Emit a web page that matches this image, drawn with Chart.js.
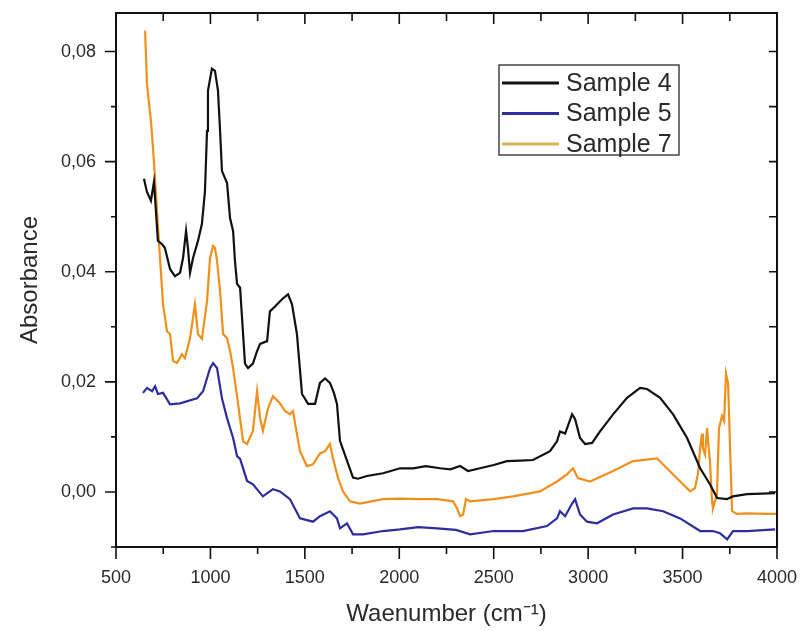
<!DOCTYPE html>
<html>
<head>
<meta charset="utf-8">
<script src="https://cdn.jsdelivr.net/npm/chart.js@4.4.0/dist/chart.umd.min.js"></script>
<style>
    html, body { margin: 0; padding: 0; background: #ffffff; }
    #spectrum { display: block; }
</style>
</head>
<body>
<canvas id="spectrum" width="800" height="631"></canvas>
<script>
// FTIR spectra (wavenumber in cm-1, absorbance)
const seriesNames = ['Sample 4', 'Sample 5', 'Sample 7'];

const sample4Wn = [648, 664, 685, 701, 722, 744, 759, 786, 812, 839, 855, 871, 881, 892, 908, 934, 955, 971, 982, 987,
    1008, 1024, 1040, 1051, 1061, 1088, 1104, 1120, 1130, 1141, 1157, 1183, 1199, 1225, 1247, 1263, 1300, 1315, 1342, 1379,
    1411, 1432, 1458, 1485, 1517, 1554, 1580, 1607, 1633, 1654, 1670, 1686, 1723, 1755, 1781, 1829, 1914, 2004, 2073, 2140,
    2216, 2270, 2322, 2364, 2427, 2500, 2570, 2640, 2708, 2798, 2835, 2851, 2878, 2915, 2931, 2957, 2984, 3021, 3063, 3132,
    3206, 3275, 3312, 3381, 3450, 3524, 3593, 3645, 3683, 3736, 3767, 3841, 3920, 3990];
const sample4Abs = [0.0569, 0.0545, 0.0529, 0.0563, 0.0456, 0.0450, 0.0443, 0.0405, 0.0392, 0.0398, 0.0425, 0.0474, 0.0443, 0.0398, 0.0425, 0.0456, 0.0487, 0.0546, 0.0656, 0.0729,
    0.0769, 0.0765, 0.0729, 0.0656, 0.0583, 0.0561, 0.0497, 0.0474, 0.0419, 0.0378, 0.0371, 0.0233, 0.0225, 0.0233, 0.0256, 0.0269, 0.0274, 0.0328, 0.0337, 0.0350,
    0.0359, 0.0341, 0.0287, 0.0178, 0.0160, 0.0160, 0.0198, 0.0206, 0.0198, 0.0180, 0.0160, 0.0093, 0.0057, 0.0026, 0.0024, 0.0029, 0.0034, 0.0043, 0.0043, 0.0047,
    0.0043, 0.0041, 0.0047, 0.0038, 0.0043, 0.0049, 0.0056, 0.0057, 0.0058, 0.0074, 0.0092, 0.0110, 0.0106, 0.0141, 0.0132, 0.0098, 0.0087, 0.0089, 0.0110, 0.0141,
    0.0171, 0.0189, 0.0187, 0.0171, 0.0141, 0.0098, 0.0043, 0.0014, -0.0011, -0.0013, -0.0008, -0.0004, -0.0003, -0.0002];

const sample5Wn = [643, 664, 691, 707, 722, 749, 786, 839, 929, 961, 998, 1014, 1035, 1061, 1088, 1120, 1141, 1157, 1194, 1225,
    1278, 1331, 1368, 1421, 1474, 1543, 1580, 1633, 1670, 1686, 1723, 1755, 1808, 1914, 2004, 2100, 2200, 2300, 2375, 2500,
    2655, 2782, 2835, 2851, 2878, 2915, 2931, 2957, 2994, 3047, 3132, 3238, 3312, 3397, 3487, 3593, 3661, 3698, 3736, 3767,
    3841, 3990];
const sample5Abs = [0.0180, 0.0189, 0.0183, 0.0192, 0.0178, 0.0180, 0.0159, 0.0161, 0.0170, 0.0183, 0.0225, 0.0234, 0.0225, 0.0170, 0.0134, 0.0098, 0.0065, 0.0060, 0.0020, 0.0014,
    -0.0008, 0.0005, 0.0001, -0.0013, -0.0048, -0.0054, -0.0044, -0.0035, -0.0048, -0.0066, -0.0057, -0.0077, -0.0077, -0.0071, -0.0068, -0.0064, -0.0066, -0.0069, -0.0077, -0.0071,
    -0.0071, -0.0062, -0.0048, -0.0035, -0.0044, -0.0021, -0.0013, -0.0041, -0.0054, -0.0057, -0.0041, -0.0030, -0.0030, -0.0035, -0.0048, -0.0071, -0.0071, -0.0075, -0.0086, -0.0071,
    -0.0071, -0.0068];

const sample7Wn = [654, 664, 669, 685, 701, 717, 733, 749, 770, 786, 802, 823, 849, 865, 892, 918, 934, 955, 982, 998,
    1014, 1024, 1035, 1051, 1067, 1088, 1104, 1120, 1146, 1173, 1194, 1225, 1247, 1263, 1278, 1305, 1331, 1368, 1395, 1421,
    1437, 1474, 1511, 1543, 1580, 1607, 1633, 1649, 1676, 1702, 1739, 1792, 1914, 2004, 2100, 2200, 2285, 2306, 2322, 2338,
    2353, 2375, 2500, 2602, 2745, 2835, 2888, 2920, 2946, 3010, 3132, 3238, 3365, 3397, 3487, 3540, 3566, 3582, 3593, 3603,
    3608, 3619, 3630, 3635, 3645, 3656, 3661, 3682, 3693, 3709, 3720, 3730, 3741, 3746, 3762, 3788, 3841, 3947, 4000];
const sample7Abs = [0.0838, 0.0743, 0.0725, 0.0674, 0.0601, 0.0510, 0.0425, 0.0341, 0.0292, 0.0287, 0.0238, 0.0234, 0.0250, 0.0243, 0.0279, 0.0341, 0.0287, 0.0278, 0.0347, 0.0425,
    0.0447, 0.0443, 0.0420, 0.0365, 0.0287, 0.0279, 0.0256, 0.0225, 0.0161, 0.0092, 0.0087, 0.0111, 0.0183, 0.0134, 0.0111, 0.0152, 0.0174, 0.0161, 0.0147, 0.0141,
    0.0147, 0.0074, 0.0047, 0.0050, 0.0070, 0.0074, 0.0087, 0.0061, 0.0025, 0.0001, -0.0017, -0.0021, -0.0013, -0.0012, -0.0013, -0.0013, -0.0017, -0.0030, -0.0044, -0.0041,
    -0.0013, -0.0017, -0.0013, -0.0008, 0.0001, 0.0019, 0.0032, 0.0043, 0.0025, 0.0019, 0.0038, 0.0056, 0.0061, 0.0050, 0.0019, 0.0001, 0.0007, 0.0034, 0.0079, 0.0106,
    0.0079, 0.0068, 0.0116, 0.0092, 0.0056, -0.0017, -0.0030, -0.0004, 0.0116, 0.0138, 0.0129, 0.0215, 0.0197, 0.0142, -0.0035, -0.0040, -0.0039, -0.0040, -0.0040];

const xTicks = [500, 1000, 1500, 2000, 2500, 3000, 3500, 4000];
const yTicks = [0.00, 0.02, 0.04, 0.06, 0.08];

const colors = {
    sample4: '#111111',
    sample5: '#2d2d9c',
    sample7: '#f0901c',
    sample7Key: '#d8b35a',
    frame: '#111111',
    text: '#2a2a2a'
};
const fontFamily = "'Liberation Sans', Arial, sans-serif";

function toPoints(wn, abs) {
    return wn.map((w, i) => ({ x: w, y: abs[i] }));
}

// box around the plot with outward ticks bottom/left, inward ticks top/right
const frameTicks = {
    id: 'frameTicks',
    afterDatasetsDraw(chart) {
        const { ctx, chartArea: a, scales: { x, y } } = chart;
        ctx.save();
        ctx.strokeStyle = colors.frame;
        ctx.lineWidth = 2;
        ctx.strokeRect(a.left, a.top, a.right - a.left, a.bottom - a.top);

        ctx.lineWidth = 1.6;
        ctx.beginPath();
        xTicks.forEach((v, i) => {
            const px = x.getPixelForValue(v);
            ctx.moveTo(px, a.bottom); ctx.lineTo(px, a.bottom + 12);
            ctx.moveTo(px, a.top); ctx.lineTo(px, a.top + 11);
            if (i < xTicks.length - 1) {
                const pm = x.getPixelForValue((v + xTicks[i + 1]) / 2);
                ctx.moveTo(pm, a.bottom); ctx.lineTo(pm, a.bottom + 7);
                ctx.moveTo(pm, a.top); ctx.lineTo(pm, a.top + 8);
            }
        });
        const yMinor = [-0.01].concat(yTicks.map(v => v + 0.01)).filter(v => v <= y.max);
        yTicks.forEach(v => {
            const py = y.getPixelForValue(v);
            ctx.moveTo(a.left, py); ctx.lineTo(a.left - 11, py);
            ctx.moveTo(a.right, py); ctx.lineTo(a.right - 8, py);
        });
        yMinor.forEach(v => {
            const py = y.getPixelForValue(v);
            ctx.moveTo(a.left, py); ctx.lineTo(a.left - 5, py);
            ctx.moveTo(a.right, py); ctx.lineTo(a.right - 8, py);
        });
        ctx.stroke();
        ctx.restore();
    }
};

// legend box drawn inside the plot area, upper right
const insideLegend = {
    id: 'insideLegend',
    afterDraw(chart) {
        const { ctx } = chart;
        const keyColors = [colors.sample4, colors.sample5, colors.sample7Key];
        const box = { x: 499, y: 65, w: 180, h: 90 };
        ctx.save();
        ctx.fillStyle = '#ffffff';
        ctx.fillRect(box.x, box.y, box.w, box.h);
        ctx.strokeStyle = '#444444';
        ctx.lineWidth = 1.5;
        ctx.strokeRect(box.x, box.y, box.w, box.h);
        ctx.font = '25px ' + fontFamily;
        ctx.textBaseline = 'middle';
        ctx.fillStyle = colors.text;
        seriesNames.forEach((name, i) => {
            const rowY = box.y + 18 + i * 30.5;
            ctx.strokeStyle = keyColors[i];
            ctx.lineWidth = 3;
            ctx.beginPath();
            ctx.moveTo(box.x + 3, rowY);
            ctx.lineTo(box.x + 60, rowY);
            ctx.stroke();
            ctx.fillText(name, box.x + 67, rowY + 1);
        });
        ctx.restore();
    }
};

const ctx = document.getElementById('spectrum');
new Chart(ctx, {
    type: 'line',
    data: {
        datasets: [
            { label: seriesNames[0], data: toPoints(sample4Wn, sample4Abs), borderColor: colors.sample4 },
            { label: seriesNames[1], data: toPoints(sample5Wn, sample5Abs), borderColor: colors.sample5 },
            { label: seriesNames[2], data: toPoints(sample7Wn, sample7Abs), borderColor: colors.sample7 }
        ]
    },
    options: {
        responsive: false,
        animation: false,
        devicePixelRatio: 1,
        elements: {
            line: { borderWidth: 2.2, tension: 0, fill: false },
            point: { radius: 0 }
        },
        layout: {
            padding: { top: 13, right: 23, bottom: 0, left: 0 }
        },
        plugins: {
            legend: { display: false },
            tooltip: { enabled: false }
        },
        scales: {
            x: {
                type: 'linear',
                min: 500,
                max: 4000,
                afterBuildTicks: s => { s.ticks = xTicks.map(v => ({ value: v })); },
                afterFit: s => {
                    s.height = 84;
                    s.paddingLeft = 0;
                    s.paddingRight = 0;
                },
                grid: { display: false, drawTicks: false },
                border: { display: false },
                ticks: {
                    color: colors.text,
                    padding: 20,
                    maxRotation: 0,
                    font: { family: fontFamily, size: 18 },
                    callback: v => String(v)
                },
                title: {
                    display: true,
                    text: 'Waenumber (cm⁻¹)',
                    color: colors.text,
                    font: { family: fontFamily, size: 24 },
                    padding: { top: 0, bottom: 2 }
                }
            },
            y: {
                type: 'linear',
                min: -0.01,
                max: 0.087,
                afterBuildTicks: s => { s.ticks = yTicks.map(v => ({ value: v })); },
                afterFit: s => {
                    s.width = 116;
                    s.paddingTop = 0;
                    s.paddingBottom = 0;
                },
                grid: { display: false, drawTicks: false },
                border: { display: false },
                ticks: {
                    color: colors.text,
                    padding: 20,
                    font: { family: fontFamily, size: 18 },
                    callback: v => v.toFixed(2).replace('.', ',')
                },
                title: {
                    display: true,
                    text: 'Absorbance',
                    color: colors.text,
                    font: { family: fontFamily, size: 24 },
                    padding: { top: 16, bottom: 0 }
                }
            }
        }
    },
    plugins: [frameTicks, insideLegend]
});
</script>
</body>
</html>
